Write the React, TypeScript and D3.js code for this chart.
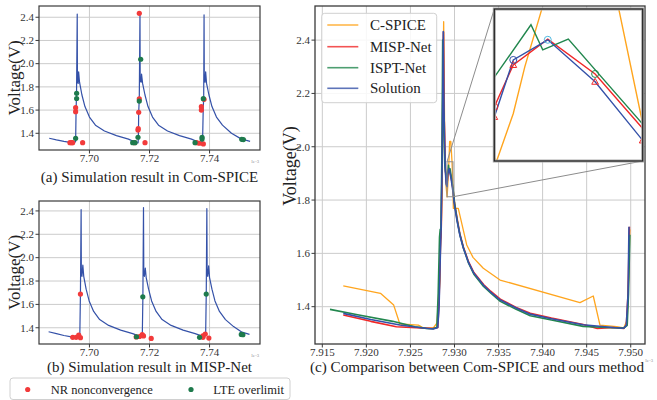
import React from "react";
import * as d3 from "d3";

type P = [number, number];

// ---------- tick values ----------
const leftXTicks = [7.7, 7.72, 7.74];
const leftYTicks = [1.4, 1.6, 1.8, 2.0, 2.2, 2.4];
const mainXTicks = [7.915, 7.92, 7.925, 7.93, 7.935, 7.94, 7.945, 7.95];
const mainYTicks = [1.4, 1.6, 1.8, 2.0, 2.2, 2.4];

// ---------- legend / captions ----------
const mainSeriesNames = ["C-SPICE", "MISP-Net", "ISPT-Net", "Solution"];
const dotLegendNames = ["NR nonconvergence", "LTE overlimit"];
const captions = [
  "(a) Simulation result in Com-SPICE",
  "(b) Simulation result in MISP-Net",
  "(c) Comparison between Com-SPICE and ours method",
];

// ---------- panel (a): Com-SPICE waveform ----------
const comSpiceWave: P[] = [
  [7.6866, 1.357], [7.689, 1.343], [7.6915, 1.33], [7.694, 1.319], [7.695, 1.318],
  [7.6954, 1.33], [7.69555, 1.6], [7.6957, 1.74], [7.69593, 2.428], [7.696, 1.84],
  [7.69625, 1.83], [7.6964, 1.93], [7.6967, 1.84], [7.6975, 1.73], [7.6985, 1.63],
  [7.7, 1.54], [7.702, 1.47], [7.705, 1.42], [7.709, 1.38], [7.713, 1.35], [7.7155, 1.32],
  [7.7162, 1.318], [7.7163, 1.37], [7.7164, 1.58], [7.7166, 1.7], [7.71683, 2.434],
  [7.7169, 1.85], [7.7172, 1.84], [7.71735, 1.91], [7.7177, 1.83], [7.7185, 1.73],
  [7.7195, 1.63], [7.721, 1.54], [7.723, 1.47], [7.726, 1.42], [7.73, 1.38], [7.734, 1.35],
  [7.7368, 1.318], [7.7374, 1.32], [7.7377, 1.36], [7.7379, 1.62], [7.73805, 1.7],
  [7.73817, 2.42], [7.73825, 1.85], [7.7385, 1.84], [7.7387, 1.93], [7.739, 1.83],
  [7.7398, 1.73], [7.7408, 1.63], [7.7423, 1.54], [7.7443, 1.47], [7.7473, 1.4],
  [7.7505, 1.352], [7.7535, 1.33],
];
const comSpiceNR: P[] = [
  [7.6935, 1.319], [7.69407, 1.319], [7.6944, 1.319], [7.6954, 1.621], [7.6954, 1.586],
  [7.69773, 1.319], [7.7166, 2.434], [7.7166, 1.696], [7.7164, 1.581], [7.71617, 1.428],
  [7.71625, 1.44], [7.7185, 1.319], [7.715, 1.319], [7.73573, 1.319], [7.7366, 1.314],
  [7.73793, 1.308], [7.73727, 1.6], [7.73727, 1.629], [7.73817, 1.693],
];
const comSpiceLTE: P[] = [
  [7.6954, 1.357], [7.69573, 1.745], [7.69573, 1.7], [7.71707, 2.038], [7.7166, 1.678],
  [7.71617, 1.366], [7.7144, 1.319], [7.71517, 1.319], [7.73517, 1.319], [7.7375, 1.365],
  [7.7375, 1.35], [7.73793, 1.698], [7.75073, 1.348], [7.75127, 1.346],
];

// ---------- panel (b): MISP-Net waveform ----------
const mispWave: P[] = [
  [7.6864, 1.366], [7.689, 1.35], [7.6915, 1.334], [7.694, 1.322], [7.6962, 1.32],
  [7.6968, 1.34], [7.697, 1.69], [7.69723, 2.412], [7.6973, 1.86], [7.6975, 1.84],
  [7.6978, 1.936], [7.6981, 1.84], [7.6989, 1.73], [7.6999, 1.63], [7.7014, 1.54],
  [7.7034, 1.47], [7.7064, 1.42], [7.7104, 1.38], [7.7144, 1.35], [7.7172, 1.322],
  [7.7176, 1.33], [7.7178, 1.665], [7.718, 2.429], [7.7181, 1.86], [7.7183, 1.84],
  [7.7186, 1.91], [7.7189, 1.83], [7.7197, 1.73], [7.7207, 1.63], [7.7222, 1.54],
  [7.7242, 1.47], [7.7272, 1.42], [7.7312, 1.38], [7.7352, 1.35], [7.7382, 1.322],
  [7.7387, 1.34], [7.7389, 1.688], [7.7391, 2.42], [7.7392, 1.86], [7.7394, 1.84],
  [7.7397, 1.93], [7.74, 1.83], [7.7408, 1.73], [7.7418, 1.63], [7.7433, 1.54],
  [7.7453, 1.47], [7.748, 1.41], [7.7508, 1.362], [7.7533, 1.344],
];
const mispNR: P[] = [
  [7.69443, 1.318], [7.69557, 1.318], [7.69643, 1.338], [7.697, 1.315], [7.697, 1.688],
  [7.71557, 1.321], [7.71667, 1.325], [7.71757, 1.341], [7.718, 1.33], [7.72057, 1.309],
  [7.7378, 1.318], [7.73777, 1.33], [7.73857, 1.346], [7.73977, 1.312],
];
const mispLTE: P[] = [
  [7.71567, 1.323], [7.71777, 1.665], [7.73667, 1.318], [7.7389, 1.688],
  [7.75057, 1.343], [7.7511, 1.34],
];

// ---------- panel (c): comparison ----------
const cSpice: P[] = [
  [7.91738, 1.478], [7.9216, 1.45], [7.9231, 1.406], [7.9238, 1.335], [7.9259, 1.331],
  [7.9265, 1.32], [7.9276, 1.32], [7.928, 1.338], [7.92836, 1.5], [7.92842, 1.65],
  [7.92848, 1.66], [7.92858, 1.8], [7.92877, 2.469], [7.9289, 2.0], [7.92905, 1.85],
  [7.92916, 1.812], [7.929237, 1.8534], [7.92929, 1.8939], [7.929367, 1.9431],
  [7.92945, 2.02], [7.92958, 2.02], [7.92972, 1.944], [7.92983, 1.8447], [7.92987, 1.769],
  [7.93043, 1.769], [7.93139, 1.6315], [7.9321, 1.585], [7.93327, 1.544], [7.93517, 1.5],
  [7.94424, 1.415], [7.94575, 1.44], [7.94651, 1.331], [7.9484, 1.325], [7.9492, 1.32],
  [7.9496, 1.35], [7.94975, 1.5], [7.9499, 1.69],
];
const mispNet: P[] = [
  [7.91738, 1.369], [7.9205, 1.345], [7.9234, 1.325], [7.9262, 1.32], [7.9276, 1.318],
  [7.9281, 1.322], [7.92825, 1.42], [7.9284, 1.62], [7.9285, 1.7], [7.92862, 2.0],
  [7.92875, 2.43], [7.92882, 2.12], [7.92897, 1.91], [7.92907, 1.87], [7.92915, 1.8592],
  [7.929237, 1.8954], [7.929395, 1.9177], [7.929612, 1.8876], [7.92983, 1.8404],
  [7.93, 1.79], [7.9303, 1.73], [7.9306, 1.675], [7.931, 1.625], [7.9316, 1.568],
  [7.9322, 1.528], [7.9333, 1.483], [7.9341, 1.458], [7.9352, 1.428], [7.937, 1.397],
  [7.9386, 1.375], [7.941, 1.357], [7.9446, 1.333], [7.9462, 1.318], [7.948, 1.322],
  [7.9492, 1.318], [7.9495, 1.33], [7.9497, 1.45], [7.94985, 1.7],
];
const isptNet: P[] = [
  [7.91587, 1.39], [7.919, 1.37], [7.923, 1.345], [7.9255, 1.325], [7.9262, 1.322],
  [7.9268, 1.318], [7.9275, 1.317], [7.928, 1.322], [7.92815, 1.45], [7.9283, 1.66],
  [7.92838, 1.69], [7.92846, 1.69], [7.92858, 2.0], [7.92866, 2.4], [7.92876, 2.1],
  [7.9289, 1.93], [7.92905, 1.89], [7.92915, 1.8847], [7.929318, 1.9301],
  [7.929372, 1.9084], [7.929489, 1.9177], [7.929828, 1.8447], [7.93, 1.79],
  [7.9303, 1.725], [7.9306, 1.672], [7.931, 1.622], [7.9316, 1.563], [7.9322, 1.522],
  [7.9333, 1.476], [7.9341, 1.452], [7.9352, 1.42], [7.937, 1.39], [7.9386, 1.366],
  [7.941, 1.35], [7.9446, 1.326], [7.948, 1.321], [7.9492, 1.32], [7.9496, 1.33],
  [7.94975, 1.45], [7.9499, 1.67],
];
const solution: P[] = [
  [7.91738, 1.375], [7.9205, 1.352], [7.9238, 1.331], [7.9262, 1.321], [7.9276, 1.316],
  [7.9281, 1.322], [7.92825, 1.4], [7.9284, 1.6], [7.92848, 1.69], [7.9286, 1.95],
  [7.92873, 2.432], [7.9288, 2.15], [7.92895, 1.92], [7.92905, 1.86], [7.92915, 1.8505],
  [7.929237, 1.8997], [7.929395, 1.9171], [7.929612, 1.8809], [7.92983, 1.8302],
  [7.93, 1.78], [7.9303, 1.72], [7.9306, 1.67], [7.931, 1.62], [7.9316, 1.565],
  [7.9322, 1.525], [7.9333, 1.48], [7.9341, 1.455], [7.9352, 1.425], [7.937, 1.395],
  [7.9386, 1.372], [7.941, 1.355], [7.9446, 1.332], [7.948, 1.322], [7.9492, 1.319],
  [7.9495, 1.33], [7.9497, 1.45], [7.9498, 1.7],
];

// inset zoom window and marker points
const insetXDomain: P = [7.92915, 7.92983];
const insetYDomain: P = [1.8124, 1.9437];
const insetTriangles: P[] = [[7.92915, 1.8505], [7.929237, 1.8954], [7.929612, 1.8809], [7.92983, 1.8302]];
const insetCircleRed: P[] = [[7.92915, 1.8592]];
const insetCircleBlue: P[] = [[7.929237, 1.8997]];
const insetCircleCyan: P[] = [[7.929395, 1.9171]];
const insetCircleGreen: P[] = [[7.929612, 1.8876]];

// ---------- styles ----------
const FONT = "Liberation Serif, DejaVu Serif, serif";
const C_ORANGE = "#ffa51e";
const C_RED = "#f02828";
const C_GREEN = "#22874e";
const C_BLUE = "#3451a8";
const DOT_RED = "#f23a3a";
const DOT_GREEN = "#1e7a4c";
const GRID = "#cbcbcb";
const SPINE = "#3a3a3a";
const TICKTXT = "#333";
const seriesColors = [C_ORANGE, C_RED, C_GREEN, C_BLUE];

function LeftPanel(props: {
  id: string; top: number; bottom: number; yDom: P; wave: P[]; nr: P[]; lte: P[];
  caption: string; captionY: number;
}) {
  const { id, top, bottom, yDom, wave, nr, lte, caption, captionY } = props;
  const left = 39, right = 260;
  const x = d3.scaleLinear().domain([7.6832, 7.7568]).range([left, right]);
  const y = d3.scaleLinear().domain(yDom).range([bottom, top]);
  const line = d3.line<P>().x((d) => x(d[0])).y((d) => y(d[1]));
  return (
    <g>
      <defs>
        <clipPath id={id}>
          <rect x={left} y={top} width={right - left} height={bottom - top} />
        </clipPath>
      </defs>
      <rect x={left} y={top} width={right - left} height={bottom - top} fill="#fff" />
      {leftXTicks.map((t) => (
        <line key={"gx" + t} x1={x(t)} x2={x(t)} y1={top} y2={bottom} stroke={GRID} strokeWidth={1} />
      ))}
      {leftYTicks.map((t) => (
        <line key={"gy" + t} x1={left} x2={right} y1={y(t)} y2={y(t)} stroke={GRID} strokeWidth={1} />
      ))}
      <g clipPath={`url(#${id})`}>
        <path d={line(wave) || ""} fill="none" stroke={C_BLUE} strokeWidth={1.2} strokeLinejoin="round" />
        {nr.map((d, i) => (
          <circle key={"r" + i} cx={x(d[0])} cy={y(d[1])} r={2.6} fill={DOT_RED} />
        ))}
        {lte.map((d, i) => (
          <circle key={"g" + i} cx={x(d[0])} cy={y(d[1])} r={2.6} fill={DOT_GREEN} />
        ))}
      </g>
      <rect x={left} y={top} width={right - left} height={bottom - top} fill="none" stroke={SPINE} strokeWidth={1.2} />
      {leftXTicks.map((t) => (
        <g key={"tx" + t}>
          <line x1={x(t)} x2={x(t)} y1={bottom} y2={bottom + 3.5} stroke={SPINE} strokeWidth={1} />
          <text x={x(t)} y={bottom + 12} fontSize={11} textAnchor="middle" fill={TICKTXT}>
            {t.toFixed(2)}
          </text>
        </g>
      ))}
      {leftYTicks.map((t) => (
        <g key={"ty" + t}>
          <line x1={left - 3.5} x2={left} y1={y(t)} y2={y(t)} stroke={SPINE} strokeWidth={1} />
          <text x={left - 5} y={y(t) + 3.8} fontSize={11} textAnchor="end" fill={TICKTXT}>
            {t.toFixed(1)}
          </text>
        </g>
      ))}
      <text x={259} y={bottom + 13} fontSize={4} textAnchor="end" fill="#777">1e−3</text>
      <text
        transform={`translate(${20},${(top + bottom) / 2}) rotate(-90)`}
        fontSize={17} textAnchor="middle" fill="#222"
      >
        Voltage(V)
      </text>
      <text x={(left + right) / 2} y={captionY} fontSize={15} textAnchor="middle" fill="#222">
        {caption}
      </text>
    </g>
  );
}

function MainPanel() {
  const left = 315, right = 645, top = 6, bottom = 344;
  const x = d3.scaleLinear().domain([7.91417, 7.95162]).range([left, right]);
  const y = d3.scaleLinear().domain([1.26, 2.528]).range([bottom, top]);
  const line = d3.line<P>().x((d) => x(d[0])).y((d) => y(d[1]));
  const series = [cSpice, mispNet, isptNet, solution];

  // inset
  const iL = 494.3, iR = 642.7, iT = 9, iB = 161;
  const ix = d3.scaleLinear().domain(insetXDomain).range([iL, iR]);
  const iy = d3.scaleLinear().domain(insetYDomain).range([iB, iT]);
  const iline = d3.line<P>().x((d) => ix(d[0])).y((d) => iy(d[1]));
  const rx0 = x(insetXDomain[0]), rx1 = x(insetXDomain[1]);
  const ry0 = y(insetYDomain[1]), ry1 = y(insetYDomain[0]);
  const tri = (cx: number, cy: number) => {
    const s = 3.4;
    return `M${cx},${cy - s}L${cx + s},${cy + s * 0.75}L${cx - s},${cy + s * 0.75}Z`;
  };

  const legX = 321.7, legY = 13.3;
  const rows = [25, 46.7, 67.7, 88.3];

  return (
    <g>
      <defs>
        <clipPath id="mainclip">
          <rect x={left} y={top} width={right - left} height={bottom - top} />
        </clipPath>
        <clipPath id="insetclip">
          <rect x={iL} y={iT} width={iR - iL} height={iB - iT} />
        </clipPath>
      </defs>
      <rect x={left} y={top} width={right - left} height={bottom - top} fill="#fff" />
      {mainXTicks.map((t) => (
        <line key={"gx" + t} x1={x(t)} x2={x(t)} y1={top} y2={bottom} stroke={GRID} strokeWidth={1} />
      ))}
      {mainYTicks.map((t) => (
        <line key={"gy" + t} x1={left} x2={right} y1={y(t)} y2={y(t)} stroke={GRID} strokeWidth={1} />
      ))}
      <g clipPath="url(#mainclip)">
        {series.map((s, i) => (
          <path key={i} d={line(s) || ""} fill="none" stroke={seriesColors[i]}
            strokeWidth={i === 0 ? 1.3 : 1.6} strokeLinejoin="round" />
        ))}
      </g>
      {/* zoom indicator */}
      <rect x={rx0} y={ry0} width={rx1 - rx0} height={ry1 - ry0} fill="none" stroke="#8c8c8c" strokeWidth={1} />
      <line x1={iL} y1={iT} x2={rx0} y2={ry0} stroke="#8c8c8c" strokeWidth={1} />
      <line x1={iR} y1={iB} x2={rx1} y2={ry1} stroke="#8c8c8c" strokeWidth={1} />

      <rect x={left} y={top} width={right - left} height={bottom - top} fill="none" stroke={SPINE} strokeWidth={1.3} />

      {/* inset */}
      <rect x={iL} y={iT} width={iR - iL} height={iB - iT} fill="#fff" />
      <g clipPath="url(#insetclip)">
        {series.map((s, i) => (
          <path key={"i" + i} d={iline(s) || ""} fill="none" stroke={seriesColors[i]}
            strokeWidth={1.4} strokeLinejoin="miter" />
        ))}
        {insetTriangles.map((d, i) => (
          <path key={"t" + i} d={tri(ix(d[0]), iy(d[1]))} fill="none" stroke={C_RED} strokeWidth={1} />
        ))}
        {insetCircleRed.map((d, i) => (
          <circle key={"cr" + i} cx={ix(d[0])} cy={iy(d[1])} r={3.5} fill="none" stroke={C_RED} strokeWidth={1} />
        ))}
        {insetCircleBlue.map((d, i) => (
          <circle key={"cb" + i} cx={ix(d[0])} cy={iy(d[1])} r={3.5} fill="none" stroke={C_BLUE} strokeWidth={1} />
        ))}
        {insetCircleCyan.map((d, i) => (
          <circle key={"cc" + i} cx={ix(d[0])} cy={iy(d[1])} r={3.5} fill="none" stroke="#4fb8e0" strokeWidth={1} />
        ))}
        {insetCircleGreen.map((d, i) => (
          <circle key={"cg" + i} cx={ix(d[0])} cy={iy(d[1])} r={3.5} fill="none" stroke={C_GREEN} strokeWidth={1} />
        ))}
      </g>
      <rect x={iL} y={iT} width={iR - iL} height={iB - iT} fill="none" stroke="#a8a8a8" strokeWidth={3} />
      <rect x={iL} y={iT} width={iR - iL} height={iB - iT} fill="none" stroke="#222" strokeWidth={1.2} />

      {/* ticks */}
      {mainXTicks.map((t) => (
        <g key={"tx" + t}>
          <line x1={x(t)} x2={x(t)} y1={bottom} y2={bottom + 3.5} stroke={SPINE} strokeWidth={1} />
          <text x={x(t)} y={bottom + 12} fontSize={11} textAnchor="middle" fill={TICKTXT}>
            {t.toFixed(3)}
          </text>
        </g>
      ))}
      {mainYTicks.map((t) => (
        <g key={"ty" + t}>
          <line x1={left - 3.5} x2={left} y1={y(t)} y2={y(t)} stroke={SPINE} strokeWidth={1} />
          <text x={left - 5} y={y(t) + 3.8} fontSize={11} textAnchor="end" fill={TICKTXT}>
            {t.toFixed(1)}
          </text>
        </g>
      ))}
      <text x={653} y={362} fontSize={4} textAnchor="end" fill="#777">1e−3</text>
      <text transform={`translate(${296},${166}) rotate(-90)`} fontSize={18} textAnchor="middle" fill="#222">
        Voltage(V)
      </text>

      {/* legend */}
      <rect x={legX} y={legY} width={115} height={89.4} rx={3} fill="#fff" fillOpacity={0.85} stroke="#d0d0d0" strokeWidth={1} />
      {mainSeriesNames.map((n, i) => (
        <g key={n}>
          <line x1={327.3} x2={358.3} y1={rows[i]} y2={rows[i]} stroke={seriesColors[i]} strokeWidth={1.6} strokeOpacity={0.8} />
          <text x={370} y={rows[i] + 5} fontSize={15} fill="#222">{n}</text>
        </g>
      ))}

      <text x={477} y={372} fontSize={15.2} textAnchor="middle" fill="#222">
        {captions[2]}
      </text>
    </g>
  );
}

export default function App() {
  return (
    <svg width={657} height={400} viewBox="0 0 657 400"
      style={{ position: "absolute", left: 0, top: 0, background: "#fff", fontFamily: FONT }}>
      <rect x={0} y={0} width={657} height={400} fill="#fff" />
      <LeftPanel id="clipA" top={6} bottom={150} yDom={[1.256, 2.497]} wave={comSpiceWave}
        nr={comSpiceNR} lte={comSpiceLTE} caption={captions[0]} captionY={182} />
      <LeftPanel id="clipB" top={201} bottom={344} yDom={[1.261, 2.485]} wave={mispWave}
        nr={mispNR} lte={mispLTE} caption={captions[1]} captionY={372} />
      <MainPanel />
      {/* dot legend */}
      <rect x={10} y={378} width={280} height={21.5} rx={3} fill="#fff" stroke="#d0d0d0" strokeWidth={1} />
      <circle cx={27.7} cy={389.5} r={2.6} fill={DOT_RED} />
      <text x={50.7} y={393.5} fontSize={12.5} fill="#222">{dotLegendNames[0]}</text>
      <circle cx={191} cy={389.5} r={2.6} fill={DOT_GREEN} />
      <text x={213.3} y={393.5} fontSize={12.5} fill="#222">{dotLegendNames[1]}</text>
    </svg>
  );
}
